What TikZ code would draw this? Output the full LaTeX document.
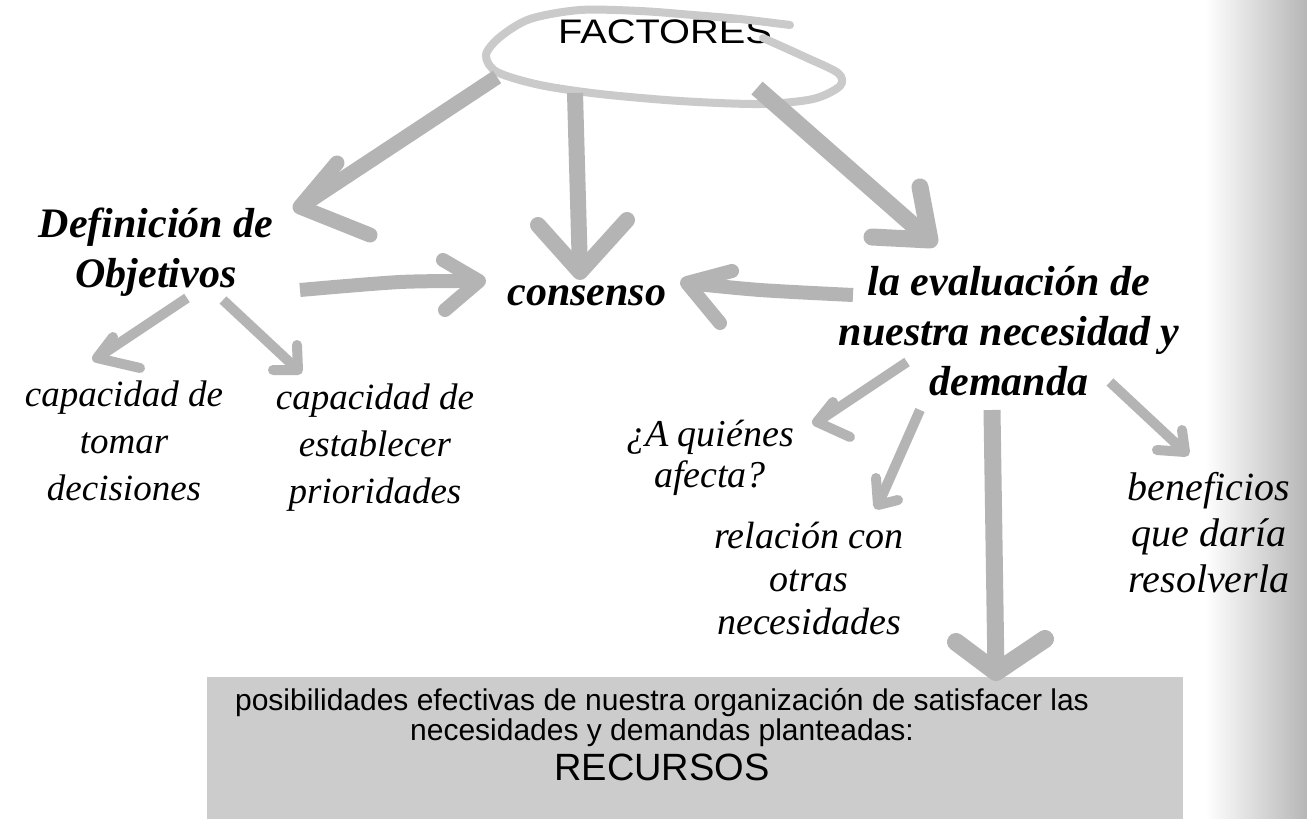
\documentclass[tikz,border=0pt]{standalone}
\usepackage{fontspec}
\setmainfont{Liberation Serif}
\newfontfamily\arialf{Liberation Sans}
\definecolor{arrgray}{RGB}{180,180,180}
\definecolor{ellgray}{RGB}{202,202,202}
\definecolor{boxgray}{RGB}{204,204,204}
\definecolor{stripgray}{RGB}{182,182,182}
\tikzset{
  shaft/.style={draw=arrgray, line cap=butt, line join=round},
  head/.style={draw=arrgray, line cap=round, line join=round},
  thin10/.style={line width=10pt},
  lab/.style={font=\fontsize{42}{50}\selectfont\bfseries\itshape, align=center, inner sep=0pt},
  sublab/.style={font=\fontsize{37}{47}\selectfont\itshape, align=center, inner sep=0pt},
}
\begin{document}
\begin{tikzpicture}[x=1pt,y=-1pt]
\useasboundingbox (0,0) rectangle (1307,819);
\fill[white] (0,0) rectangle (1307,819);
% right gradient strip
\shade[left color=white, right color=stripgray] (1205,0) rectangle (1307,819);

% bottom box
\node[fill=boxgray, minimum width=976pt, minimum height=142pt, inner sep=0pt, anchor=north west] (box) at (207,677) {};
\node[font=\arialf\fontsize{30}{30}\selectfont, align=center, inner sep=0pt] (boxtext) at (662,735)
  {posibilidades efectivas de nuestra organización de satisfacer las\\
   necesidades y demandas planteadas:\\[6pt]
   {\fontsize{38}{38}\selectfont RECURSOS}};

% FACTORES
\node[font=\arialf\fontsize{34}{34}\selectfont, xscale=1.17, inner sep=0pt] (fac) at (665,32) {FACTORES};
\draw[ellgray, line width=8pt, line cap=round, line join=round]
  plot[smooth] coordinates {(790,25) (740,19) (693,15) (640,11) (580,10) (530,19) (500,37) (486,55) (497,72) (540,85) (600,94) (680,101) (760,104) (813,99) (840,86) (838,73) (805,57) (763,38)};

% labels
\node[lab] (def) at (156,252) {Definición de\\Objetivos};
\node[lab] (cons) at (587,296) {consenso};
\node[lab] (eval) at (1009,331) {la evaluación de\\nuestra necesidad y\\demanda};
\node[sublab] (capl) at (124,441) {capacidad de\\tomar\\decisiones};
\node[sublab] (capr) at (375,448) {capacidad de\\establecer\\prioridades};
\node[sublab, font=\fontsize{38}{41}\selectfont\itshape] (aqui) at (710,458) {¿A quiénes\\afecta?};
\node[sublab, font=\fontsize{38}{43}\selectfont\itshape] (rel) at (809,578) {relación con\\otras\\necesidades};
\node[sublab, font=\fontsize{40}{46}\selectfont\itshape] (ben) at (1209,533) {beneficios\\que daría\\resolverla};

% arrow coordinates
\coordinate (a1s) at (497,77);  \coordinate (a1t) at (300,207); \coordinate (a1l) at (337,163); \coordinate (a1r) at (370,235);
\coordinate (a2s) at (575,93);  \coordinate (a2t) at (580,272); \coordinate (a2l) at (538,225); \coordinate (a2r) at (627,220);
\coordinate (a3s) at (757,88);  \coordinate (a3t) at (930,240); \coordinate (a3l) at (920,187); \coordinate (a3r) at (872,237);
\coordinate (a4s) at (300,290); \coordinate (a4m) at (400,282); \coordinate (a4t) at (479,281); \coordinate (a4l) at (443,260); \coordinate (a4r) at (445,310);
\coordinate (a5s) at (853,295); \coordinate (a5m) at (760,290); \coordinate (a5t) at (687,283); \coordinate (a5l) at (732,271); \coordinate (a5r) at (720,323);
\coordinate (a6s) at (187,298); \coordinate (a6t) at (97,358);  \coordinate (a6l) at (113,337); \coordinate (a6r) at (140,368);
\coordinate (a7s) at (223,300); \coordinate (a7t) at (298,370); \coordinate (a7l) at (297,345); \coordinate (a7r) at (273,370);
\coordinate (a8s) at (907,362); \coordinate (a8t) at (817,422); \coordinate (a8l) at (833,402); \coordinate (a8r) at (850,437);
\coordinate (a9s) at (920,410); \coordinate (a9t) at (878,505); \coordinate (a9l) at (876,478); \coordinate (a9r) at (898,500);
\coordinate (a10s) at (1110,382); \coordinate (a10t) at (1185,452); \coordinate (a10l) at (1182,430); \coordinate (a10r) at (1157,450);
\coordinate (a11s) at (992,410); \coordinate (a11t) at (996,672); \coordinate (a11l) at (956,642); \coordinate (a11r) at (1045,639);

% big arrows from FACTORES
\draw[shaft, line width=15pt] (a1s) -- (a1t);
\draw[head, line width=15pt] (a1l) -- (a1t) -- (a1r);
\draw[shaft, line width=16pt] (a2s) -- (a2t);
\draw[head, line width=16pt] (a2l) -- (a2t) -- (a2r);
\draw[shaft, line width=17pt] (a3s) -- (a3t);
\draw[head, line width=17pt] (a3l) -- (a3t) -- (a3r);
% into consenso
\draw[shaft, line width=14pt] plot[smooth] coordinates {(a4s) (a4m) (a4t)};
\draw[head, line width=14pt] (a4l) -- (a4t) -- (a4r);
\draw[shaft, line width=14pt] plot[smooth] coordinates {(a5s) (a5m) (a5t)};
\draw[head, line width=14pt] (a5l) -- (a5t) -- (a5r);
% small arrows
\draw[shaft, thin10] (a6s) -- (a6t);  \draw[head, thin10] (a6l) -- (a6t) -- (a6r);
\draw[shaft, thin10] (a7s) -- (a7t);  \draw[head, thin10] (a7l) -- (a7t) -- (a7r);
\draw[shaft, thin10] (a8s) -- (a8t);  \draw[head, thin10] (a8l) -- (a8t) -- (a8r);
\draw[shaft, thin10] (a9s) -- (a9t);  \draw[head, thin10] (a9l) -- (a9t) -- (a9r);
\draw[shaft, thin10] (a10s) -- (a10t); \draw[head, thin10] (a10l) -- (a10t) -- (a10r);
% to RECURSOS
\draw[shaft, line width=17pt] (a11s) -- (a11t);
\draw[head, line width=18pt] (a11l) -- (a11t) -- (a11r);
\end{tikzpicture}
\end{document}
